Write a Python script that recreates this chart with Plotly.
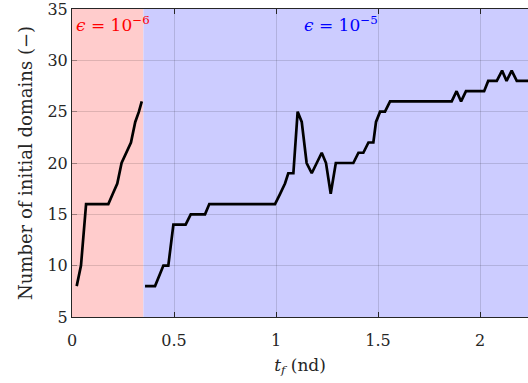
import plotly.graph_objects as go

# red region (eps = 1e-6)
t_red = [0.023, 0.044, 0.069, 0.09, 0.11, 0.13, 0.155, 0.178, 0.2, 0.222, 0.243, 0.267, 0.289, 0.31, 0.328, 0.342]
n_red = [8, 10, 16, 16, 16, 16, 16, 16, 17, 18, 20, 21, 22, 24, 25, 26]

# blue region (eps = 1e-5)
t_blue = [0.358, 0.407, 0.448, 0.472, 0.497, 0.557, 0.582, 0.652, 0.673, 0.995, 1.02, 1.044,
          1.06, 1.085, 1.106, 1.126, 1.15, 1.175, 1.224, 1.245, 1.268, 1.293, 1.379, 1.404,
          1.428, 1.453, 1.477, 1.49, 1.51, 1.534, 1.559, 1.861, 1.885, 1.907, 1.931, 2.02,
          2.04, 2.082, 2.108, 2.13, 2.155, 2.18, 2.24]
n_blue = [8, 8, 10, 10, 14, 14, 15, 15, 16, 16, 17, 18,
          19, 19, 25, 24, 20, 19, 21, 20, 17, 20, 20, 21,
          21, 22, 22, 24, 25, 25, 26, 26, 27, 26, 27, 27,
          28, 28, 29, 28, 29, 28, 28]

x_ticks = [0, 0.5, 1, 1.5, 2]
x_tick_labels = ["0", "0.5", "1", "1.5", "2"]
y_ticks = [5, 10, 15, 20, 25, 30, 35]

eps_split = 0.35
x_max = 2.235

font_family = "DejaVu Serif"

fig = go.Figure()
fig.add_trace(go.Scatter(x=t_red, y=n_red, mode="lines",
                         line=dict(color="black", width=2.7), showlegend=False))
fig.add_trace(go.Scatter(x=t_blue, y=n_blue, mode="lines",
                         line=dict(color="black", width=2.7), showlegend=False))

fig.add_shape(type="rect", xref="x", yref="paper", x0=0, x1=eps_split, y0=0, y1=1,
              fillcolor="rgb(255,204,204)", line=dict(width=0), layer="below")
fig.add_shape(type="rect", xref="x", yref="paper", x0=eps_split, x1=x_max, y0=0, y1=1,
              fillcolor="rgb(204,204,255)", line=dict(width=0), layer="below")

fig.add_annotation(x=0.012, y=33.5, xref="x", yref="y", text="<i>ϵ</i> = 10<sup>−6</sup>",
                   showarrow=False, xanchor="left", yanchor="middle",
                   font=dict(color="rgb(255,0,0)", size=17, family=font_family))
fig.add_annotation(x=1.125, y=33.5, xref="x", yref="y", text="<i>ϵ</i> = 10<sup>−5</sup>",
                   showarrow=False, xanchor="left", yanchor="middle",
                   font=dict(color="rgb(0,0,255)", size=17, family=font_family))

fig.update_layout(
    width=528, height=383,
    margin=dict(l=72, r=0, t=7, b=66),
    paper_bgcolor="white", plot_bgcolor="rgba(0,0,0,0)",
    font=dict(family=font_family, size=16, color="rgb(38,38,38)"),
)
fig.update_xaxes(range=[0, x_max], tickvals=x_ticks, ticktext=x_tick_labels,
                 showgrid=True, gridcolor="rgba(0,0,0,0.13)", gridwidth=1,
                 showline=True, linecolor="rgb(38,38,38)", linewidth=1, mirror="ticks",
                 ticks="inside", ticklen=5, tickcolor="rgb(38,38,38)",
                 zeroline=False, tickfont=dict(size=16, family=font_family),
                 ticklabelstandoff=9,
                 title=dict(text="<i>t<sub>f</sub></i> (nd)", standoff=9,
                            font=dict(size=17, family=font_family)))
fig.update_yaxes(range=[4.99, 35.01], tickvals=y_ticks,
                 showgrid=True, gridcolor="rgba(0,0,0,0.13)", gridwidth=1,
                 showline=True, linecolor="rgb(38,38,38)", linewidth=1,
                 ticks="inside", ticklen=5, tickcolor="rgba(0,0,0,0.3)",
                 zeroline=False, tickfont=dict(size=16, family=font_family),
                 ticklabeloverflow="allow",
                 title=dict(text="Number of initial domains (−)", standoff=10,
                            font=dict(size=18, family=font_family)))

fig.write_html("out.html")
